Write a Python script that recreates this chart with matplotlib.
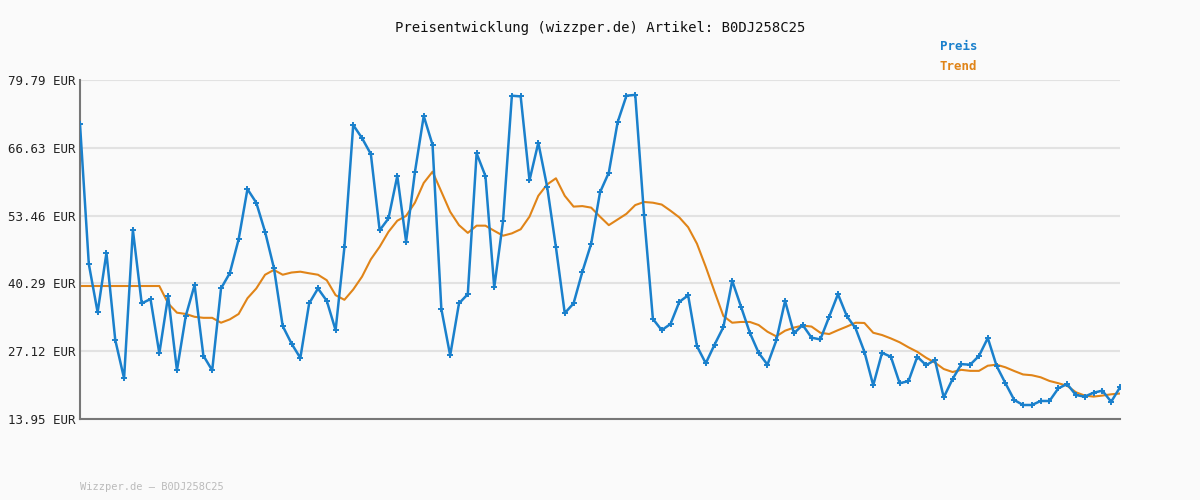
import matplotlib
matplotlib.use("Agg")
import matplotlib.pyplot as plt

preis = [71.2,44.05,34.67,46.2,29.3,21.85,50.66,36.4,37.25,26.7,37.85,23.4,33.95,39.97,26.25,23.4,39.3,42.3,48.85,58.6,
55.96,50.3,43.3,32.0,28.6,25.8,36.4,39.3,36.9,31.2,47.3,71.05,68.5,65.4,50.6,52.9,61.15,48.4,61.9,72.8,
67.2,35.3,26.3,36.4,38.2,65.55,61.15,39.5,52.4,76.74,76.6,60.3,67.6,59.07,47.3,34.5,36.4,42.56,48.0,57.97,
61.8,71.6,76.74,76.9,53.5,33.4,31.2,32.4,36.7,37.97,28.1,24.77,28.4,31.8,40.8,35.76,30.7,26.8,24.5,29.2,
36.9,30.6,32.2,29.75,29.4,33.8,38.2,33.95,31.55,27.0,20.5,26.8,26.05,20.9,21.3,26.05,24.4,25.4,18.15,21.7,
24.6,24.5,26.2,29.68,24.25,20.9,17.64,16.67,16.67,17.45,17.45,19.9,20.75,18.6,18.3,19.06,19.45,17.3,20.1]
trend = [39.78]*10 + [36.4,34.6,34.35,33.8,33.6,33.6,32.65,33.3,34.35,37.4,
39.3,41.97,42.9,41.97,42.4,42.56,42.25,41.97,40.9,38.0,37.1,39.1,41.6,44.96,47.4,50.3,52.46,53.4,55.96,59.8,
61.98,58.1,54.2,51.6,50.1,51.5,51.5,50.5,49.55,50.0,50.8,53.25,57.3,59.5,60.7,57.3,55.2,55.3,55.0,53.25,
51.6,52.7,53.8,55.5,56.1,55.96,55.6,54.4,53.1,51.2,48.0,43.5,38.67,33.95,32.65,32.8,32.8,32.2,30.9,30.0,
31.1,31.7,32.1,31.9,30.7,30.45,31.2,31.9,32.65,32.6,30.7,30.26,29.6,28.85,27.87,27.0,25.85,24.9,23.66,23.08,
23.5,23.3,23.3,24.3,24.5,23.99,23.27,22.6,22.45,22.05,21.34,20.9,20.4,19.14,18.5,18.3,18.5,18.75,18.9]
yticks = [13.95,27.12,40.29,53.46,66.63,79.79]
title = "Preisentwicklung (wizzper.de) Artikel: B0DJ258C25"

plt.rcParams['font.family'] = ['DejaVu Sans Mono']
bg = '#fafafa'
fig = plt.figure(figsize=(12,5), dpi=100, facecolor=bg)
ax = fig.add_axes([80/1200, 81/500, 1040/1200, 339/500], facecolor=bg)
x = list(range(len(preis)))
ax.plot(x, trend, color='#e08418', lw=1.5, zorder=2)
ax.plot(x, preis, color='#1a80cc', lw=1.8, marker='+', ms=4, mew=1.4, zorder=3)
ax.set_xlim(0, len(preis)-1)
ax.set_ylim(yticks[0], yticks[-1])
ax.set_yticks(yticks)
ax.set_yticklabels([f"{v:.2f} EUR" for v in yticks], fontsize=9, color='#222222')
ax.set_xticks([])
ax.grid(axis='y', color='#e2e2e2', lw=1.5)
ax.set_axisbelow(True)
for s in ['top','right']:
    ax.spines[s].set_visible(False)
ax.spines['left'].set_color('#777777'); ax.spines['left'].set_linewidth(1.5)
ax.spines['bottom'].set_color('#777777'); ax.spines['bottom'].set_linewidth(1.5)
ax.tick_params(axis='y', length=0, pad=3)
fig.text(0.5, 1-28/500, title, ha='center', va='center', fontsize=10, color='#111111')
fig.text(940/1200, 1-47/500, "Preis", ha='left', va='center', fontsize=9, color='#1a80cc', weight='bold')
fig.text(940/1200, 1-67/500, "Trend", ha='left', va='center', fontsize=9, color='#e08418', weight='bold')
fig.text(80/1200, 1-487/500, "Wizzper.de – B0DJ258C25", ha='left', va='center', fontsize=7.5, color='#bbbbbb')
fig.savefig("out.png", dpi=100, facecolor=bg)
